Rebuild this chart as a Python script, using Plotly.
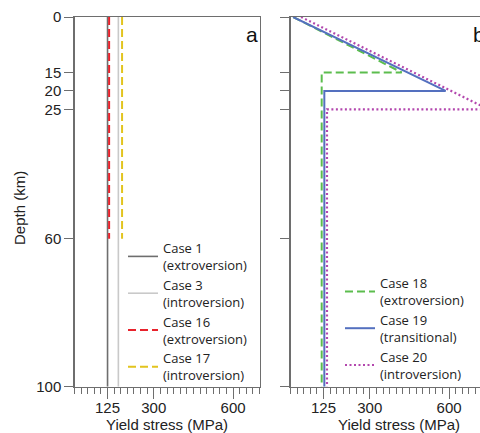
import plotly.graph_objects as go

# ---- data ----
depth_ticks = [0, 15, 20, 25, 60, 100]
stress_ticks = [125, 300, 600]

# panel a (constant yield stress)
case1_x = [125, 125]; case1_y = [0, 100]
case3_x = [166, 166]; case3_y = [0, 100]
case16_x = [131, 131]; case16_y = [0, 60]
case17_x = [180, 180]; case17_y = [0, 60]

# panel b (depth-dependent yield stress)
case18_x = [10, 421, 118, 118]; case18_y = [0, 15, 15, 100]
case19_x = [10, 587, 128, 128]; case19_y = [0, 20, 20, 100]
case20_x = [40, 750, 138, 138]; case20_y = [0, 25, 25, 100]

W, H = 480, 433
FONT = "Liberation Sans, Arial, sans-serif"
LFONT = "Open Sans, Liberation Sans, sans-serif"
FRAME = "#6e6e6e"

fig = go.Figure()

def add(x, y, name, color, dash, width, xa, ya, legend):
    fig.add_trace(go.Scatter(x=x, y=y, mode="lines", name=name,
                             line=dict(color=color, dash=dash, width=width),
                             xaxis=xa, yaxis=ya, legend=legend, hoverinfo="skip"))

add(case1_x, case1_y, "Case 1<br>(extroversion)", "#6e6e6e", "solid", 1.6, "x", "y", "legend")
add(case3_x, case3_y, "Case 3<br>(introversion)", "#c9c9c9", "solid", 1.6, "x", "y", "legend")
add(case16_x, case16_y, "Case 16<br>(extroversion)", "#e8222c", "8px,4px", 2, "x", "y", "legend")
add(case17_x, case17_y, "Case 17<br>(introversion)", "#e2c41e", "8px,4px", 2, "x", "y", "legend")

add(case18_x, case18_y, "Case 18<br>(extroversion)", "#5cbd4e", "8px,4px", 2, "x2", "y2", "legend2")
add(case19_x, case19_y, "Case 19<br>(transitional)", "#5470bf", "solid", 2, "x2", "y2", "legend2")
add(case20_x, case20_y, "Case 20<br>(introversion)", "#b347ae", "2px,2.5px", 2.2, "x2", "y2", "legend2")

ax_a = [74.5 / W, 259.5 / W]
ax_b = [290.5 / W, 1.0]
ydom = [1 - 386.7 / H, 1 - 17 / H]

xcommon = dict(range=[0, 700], tickmode="array", tickvals=stress_ticks,
               ticks="outside", ticklen=11, tickwidth=1, tickcolor=FRAME,
               minor=dict(tickmode="linear", tick0=0, dtick=25, ticks="outside",
                          ticklen=6, tickwidth=1, tickcolor=FRAME, showgrid=False),
               showline=True, linecolor=FRAME, linewidth=1.2, mirror=True,
               showgrid=False, zeroline=False, ticklabelstandoff=-4,
               tickfont=dict(family=FONT, size=15, color="#222"), automargin=False)
ycommon = dict(range=[100, 0], tickmode="array", tickvals=depth_ticks,
               ticks="outside", ticklen=9, tickwidth=1, tickcolor=FRAME,
               showline=True, linecolor=FRAME, linewidth=1.2,
               showgrid=False, zeroline=False,
               tickfont=dict(family=FONT, size=15, color="#222"), automargin=False)

xb = dict(xcommon); xb["range"] = [0, (480 - 290.5) / (185 / 700)]
yb = dict(ycommon); yb["showticklabels"] = False; yb["mirror"] = False

legend_common = dict(xanchor="left", yanchor="top", bgcolor="rgba(0,0,0,0)",
                     borderwidth=0, tracegroupgap=0,
                     font=dict(family=LFONT, size=13, color="#222"))

fig.update_layout(
    width=W, height=H,
    margin=dict(l=0, r=0, t=0, b=0),
    paper_bgcolor="white", plot_bgcolor="white",
    font=dict(family=FONT, color="#222"),
    hovermode=False,
    xaxis=dict(domain=ax_a, anchor="y", **xcommon),
    yaxis=dict(domain=ydom, anchor="x", mirror=True, **ycommon),
    xaxis2=dict(domain=ax_b, anchor="y2", **xb),
    yaxis2=dict(domain=ydom, anchor="x2", **yb),
    legend=dict(x=123 / W, y=1 - 233 / H, **legend_common),
    legend2=dict(x=340 / W, y=1 - 268 / H, **legend_common),
    showlegend=True,
    annotations=[
        dict(text="a", x=252 / W, y=1 - 34 / H, xref="paper", yref="paper",
             showarrow=False, font=dict(family=FONT, size=21, color="#111"),
             xanchor="center", yanchor="middle"),
        dict(text="b", x=471 / W, y=1 - 34 / H, xref="paper", yref="paper",
             showarrow=False, font=dict(family=FONT, size=21, color="#111"),
             xanchor="left", yanchor="middle"),
        dict(text="Yield stress (MPa)", x=167 / W, y=1 - 424 / H, xref="paper", yref="paper",
             showarrow=False, font=dict(family=FONT, size=15, color="#222"),
             xanchor="center", yanchor="middle"),
        dict(text="Yield stress (MPa)", x=399 / W, y=1 - 424 / H, xref="paper", yref="paper",
             showarrow=False, font=dict(family=FONT, size=15, color="#222"),
             xanchor="center", yanchor="middle"),
        dict(text="Depth (km)", x=19 / W, y=1 - 208 / H, xref="paper", yref="paper",
             showarrow=False, textangle=-90, font=dict(family=FONT, size=15, color="#222"),
             xanchor="center", yanchor="middle"),
    ],
)

fig.write_html("out.html",
               config={"displayModeBar": False, "staticPlot": True},
               post_script="document.body.style.margin='0';document.body.style.overflow='hidden';")
